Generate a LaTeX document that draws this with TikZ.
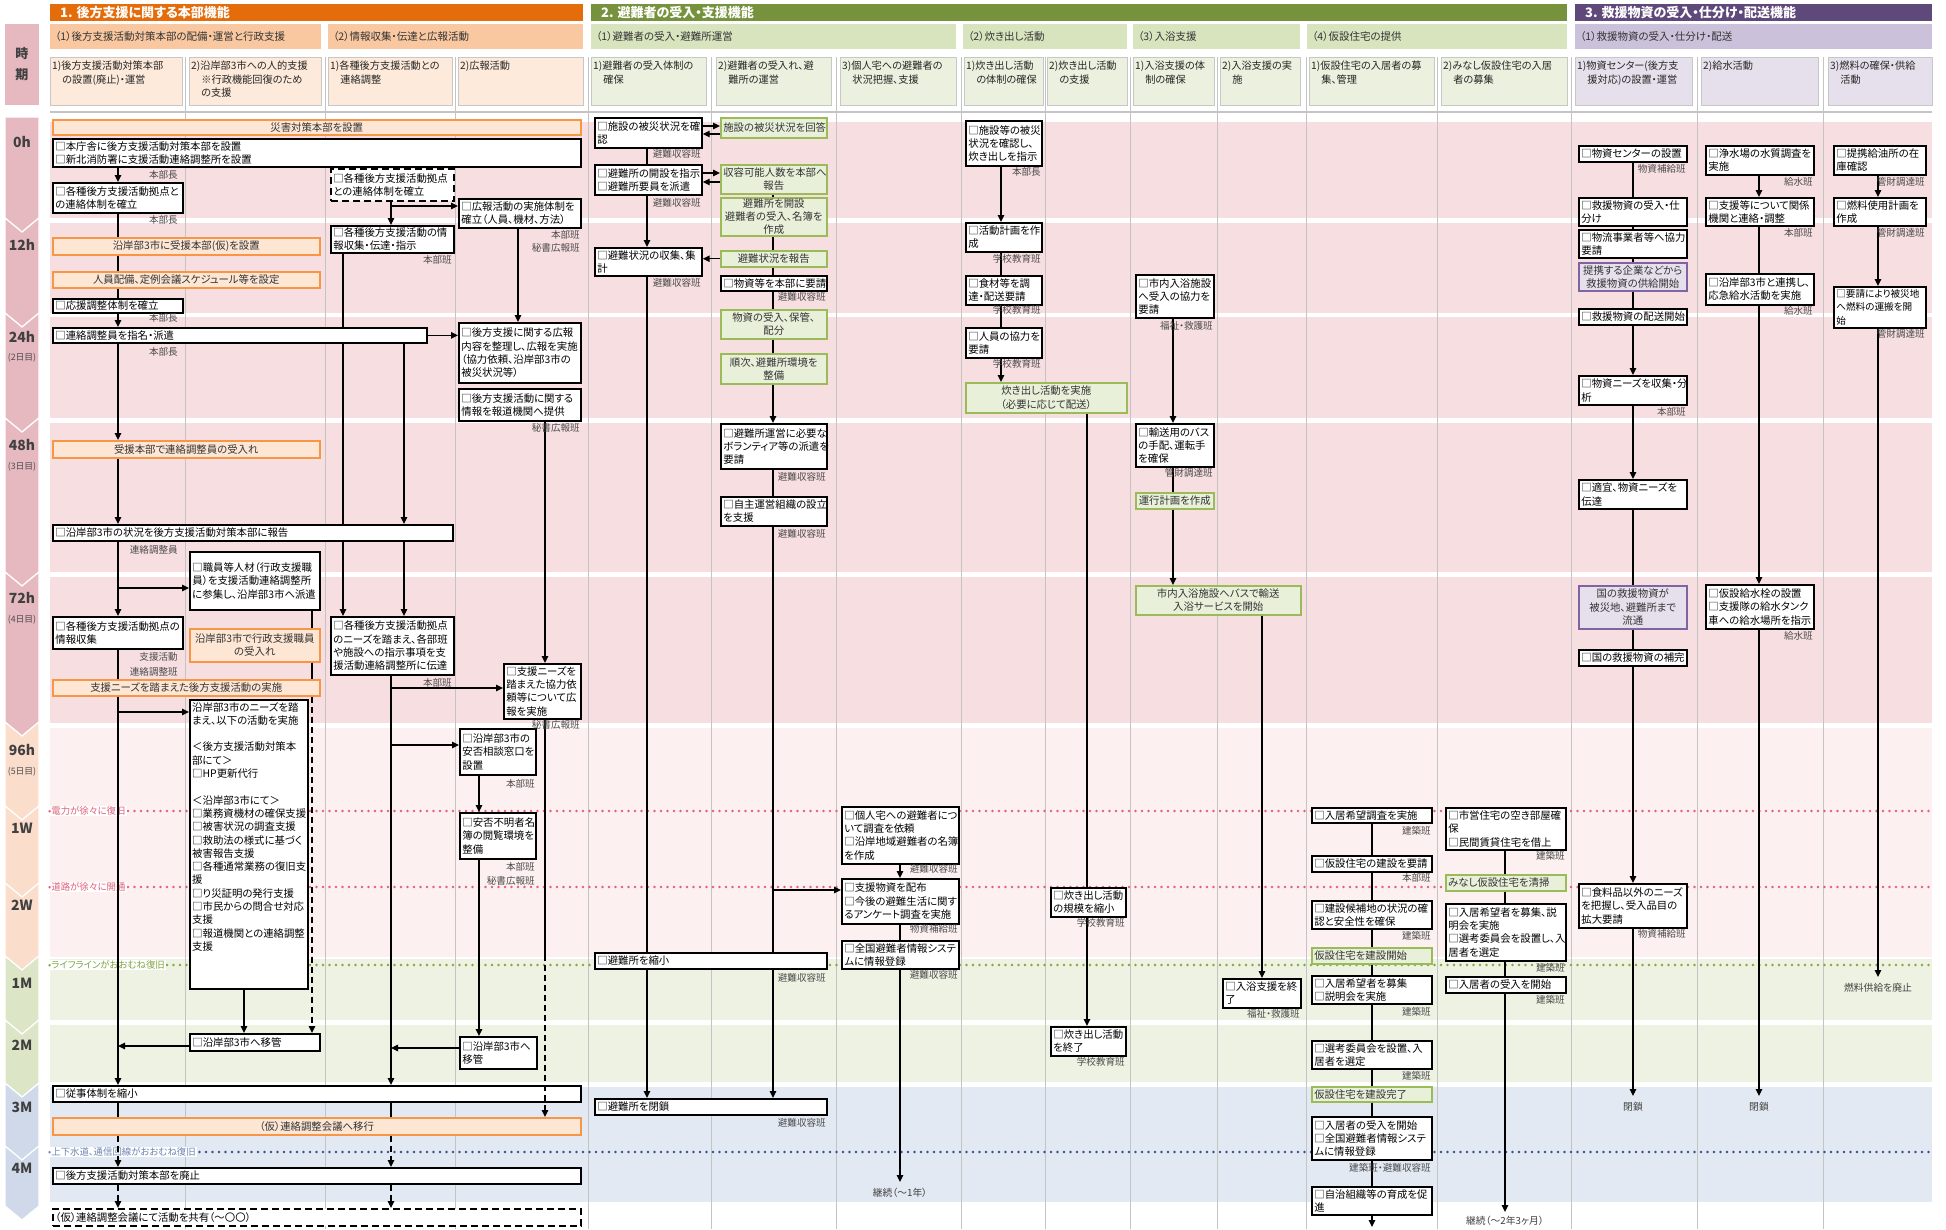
\documentclass[tikz,border=0pt]{standalone}
\usepackage{fontspec}
\setmainfont{Noto Sans CJK JP}[RawFeature=+palt]
\usetikzlibrary{arrows.meta}
\definecolor{orgH}{HTML}{E46C0A}
\definecolor{orgS}{HTML}{F9C8A0}
\definecolor{orgC}{HTML}{FDEADA}
\definecolor{orgB}{HTML}{F79646}
\definecolor{orgF}{HTML}{FDE6D4}
\definecolor{grnH}{HTML}{76923C}
\definecolor{grnS}{HTML}{D7E4BD}
\definecolor{grnC}{HTML}{EBF1DE}
\definecolor{grnB}{HTML}{9BBB59}
\definecolor{grnF}{HTML}{E8F0DA}
\definecolor{purH}{HTML}{5F497A}
\definecolor{purS}{HTML}{CCC1DA}
\definecolor{purC}{HTML}{E5E0EC}
\definecolor{purB}{HTML}{8064A2}
\definecolor{purF}{HTML}{E5E0EC}
\definecolor{bandP}{HTML}{F6DEE1}
\definecolor{bandL}{HTML}{FCF0F0}
\definecolor{bandG}{HTML}{EDF2E3}
\definecolor{bandB}{HTML}{E3E9F3}
\definecolor{chP}{HTML}{E6B9C1}
\definecolor{chO}{HTML}{FBDDCB}
\definecolor{chG}{HTML}{DCE6C6}
\definecolor{chB}{HTML}{CFD9EA}
\definecolor{redD}{HTML}{E0607A}
\definecolor{grnD}{HTML}{7FA642}
\definecolor{bluD}{HTML}{2F4F8F}
\definecolor{gridc}{HTML}{C4C4C4}
\newcommand{\mybox}[7]{%
 \pgfmathsetmacro{\myW}{#5-#3}%
 \pgfmathsetmacro{\myH}{#6-#4}%
 \pgfmathsetmacro{\myT}{#5-#3-5}%
 \node[#1, minimum width=\myW pt, minimum height=\myH pt, text width=\myT pt] (#2) at (#3,#4) {#7};}
\newcommand{\mylab}[4]{\node[lab] (#1) at (#2,#3) {#4};}
\newcommand{\mycol}[5]{%
 \filldraw[fill=#1, draw=black!22, line width=0.8pt] (#3,57) rectangle (#4,105);
 \node[chtxt] (#2) at ({#3+2},61) {#5};}
\newcommand{\mychev}[3]{\filldraw[fill=#3, draw=white, line width=1.2pt] (5,#1) -- (22,{#1+14}) -- (39,#1) -- (39,#2) -- (22,{#2+14}) -- (5,#2) -- cycle;}
\begin{document}
\begin{tikzpicture}[x=1pt,y=-1pt,
 base/.style={anchor=north west, inner xsep=2.5pt, inner ysep=0.5pt, font=\fontsize{10.4}{13.3}\selectfont},
 wbox/.style={base, draw=black, line width=1.7pt, fill=white, align=left},
 obox/.style={base, draw=orgB, line width=1.5pt, fill=orgF, align=center, text=black!80},
 gbox/.style={base, draw=grnB, line width=1.5pt, fill=grnF, align=center, text=black!80},
 glbox/.style={gbox, align=left},
 pbox/.style={base, draw=purB, line width=1.5pt, fill=purF, align=center, text=black!80},
 dbox/.style={base, draw=black, line width=1.6pt, dash pattern=on 7pt off 4pt, fill=white, align=left},
 lab/.style={anchor=east, inner sep=0pt, font=\fontsize{9.6}{10}\selectfont, text=black!70},
 endt/.style={inner sep=0pt, font=\fontsize{9.8}{10}\selectfont, text=black!75},
 arr/.style={draw=black, line width=1.3pt, -{Triangle[length=7pt,width=6.5pt]}},
 ln/.style={draw=black, line width=1.3pt},
 dsh/.style={dash pattern=on 6pt off 4pt},
 htxt/.style={anchor=west, inner sep=0pt, text=white, font=\fontsize{13}{13}\selectfont\bfseries},
 stxt/.style={anchor=west, inner sep=0pt, text=black!80, font=\fontsize{10.5}{11}\selectfont},
 chtxt/.style={anchor=north west, inner sep=0pt, align=left, text=black!85, font=\fontsize{10.2}{13.5}\selectfont},
 tl/.style={inner sep=0pt, text=black!75, font=\fontsize{14}{14}\selectfont\bfseries},
 td/.style={inner sep=0pt, text=black!70, font=\fontsize{8.8}{9}\selectfont},
 dlab/.style={anchor=west, inner sep=1pt, fill=white, font=\fontsize{9.4}{10}\selectfont},
 dotl/.style={line width=2.6pt, dash pattern=on 0pt off 6.5pt, line cap=round},
]
\useasboundingbox (0,0) rectangle (1946,1229);
\fill[white] (0,0) rectangle (1946,1229);

% ---------- bands ----------
\fill[bandP] (50,122) rectangle (1932,218);
\fill[bandP] (50,223) rectangle (1932,313);
\fill[bandP] (50,317) rectangle (1932,418);
\fill[bandP] (50,423) rectangle (1932,572);
\fill[bandP] (50,577) rectangle (1932,723);
\fill[bandL] (50,728) rectangle (1932,957);
\fill[bandG] (50,959) rectangle (1932,1020);
\fill[bandG] (50,1025) rectangle (1932,1082);
\fill[bandB] (50,1087) rectangle (1932,1202);

% ---------- time column ----------
\fill[chP] (5,24) rectangle (39,105);
\node[tl, align=center, font=\fontsize{13}{21}\selectfont\bfseries] (jiki) at (22,64) {時\\期};
\filldraw[fill=chP, draw=white, line width=1.2pt] (5,117) -- (39,117) -- (39,218) -- (22,232) -- (5,218) -- cycle;
\mychev{218}{313}{chP}
\mychev{313}{418}{chP}
\mychev{418}{572}{chP}
\mychev{572}{722}{chP}
\mychev{722}{806}{chO}
\mychev{806}{883}{chO}
\mychev{883}{956}{chO}
\mychev{956}{1020}{chG}
\mychev{1020}{1083}{chG}
\mychev{1083}{1146}{chB}
\mychev{1146}{1206}{chB}
\node[tl] (t0) at (22,142) {0h};
\node[tl] (t1) at (22,245) {12h};
\node[tl] (t2) at (22,337) {24h};
\node[td] (t2d) at (22,358) {(2日目)};
\node[tl] (t3) at (22,445) {48h};
\node[td] (t3d) at (22,467) {(3日目)};
\node[tl] (t4) at (22,598) {72h};
\node[td] (t4d) at (22,620) {(4日目)};
\node[tl] (t5) at (22,750) {96h};
\node[td] (t5d) at (22,772) {(5日目)};
\node[tl] (t6) at (22,828) {1W};
\node[tl] (t7) at (22,905) {2W};
\node[tl] (t8) at (22,983) {1M};
\node[tl] (t9) at (22,1045) {2M};
\node[tl] (t10) at (22,1107) {3M};
\node[tl] (t11) at (22,1168) {4M};

% ---------- headers ----------
\fill[orgH] (50,4) rectangle (583,21);
\node[htxt] (h1) at (60,12.5) {1. 後方支援に関する本部機能};
\fill[grnH] (591,4) rectangle (1567,21);
\node[htxt] (h2) at (601,12.5) {2. 避難者の受入・支援機能};
\fill[purH] (1575,4) rectangle (1932,21);
\node[htxt] (h3) at (1585,12.5) {3. 救援物資の受入・仕分け・配送機能};
\fill[orgS] (50,24) rectangle (321,49);
\node[stxt] (s1) at (55,36.5) {（1）後方支援活動対策本部の配備・運営と行政支援};
\fill[orgS] (328,24) rectangle (583,49);
\node[stxt] (s2) at (333,36.5) {（2）情報収集・伝達と広報活動};
\fill[grnS] (591,24) rectangle (956,49);
\node[stxt] (s3) at (596,36.5) {（1）避難者の受入・避難所運営};
\fill[grnS] (963,24) rectangle (1127,49);
\node[stxt] (s4) at (968,36.5) {（2）炊き出し活動};
\fill[grnS] (1133,24) rectangle (1300,49);
\node[stxt] (s5) at (1138,36.5) {（3）入浴支援};
\fill[grnS] (1307,24) rectangle (1567,49);
\node[stxt] (s6) at (1312,36.5) {（4）仮設住宅の提供};
\fill[purS] (1575,24) rectangle (1932,49);
\node[stxt] (s7) at (1580,36.5) {（1）救援物資の受入・仕分け・配送};

\mycol{orgC}{c1}{50}{182}{1)後方支援活動対策本部\\　の設置(廃止)・運営}
\mycol{orgC}{c2}{189}{321}{2)沿岸部3市への人的支援\\　※行政機能回復のため\\　の支援}
\mycol{orgC}{c3}{328}{452}{1)各種後方支援活動との\\　連絡調整}
\mycol{orgC}{c4}{458}{583}{2)広報活動}
\mycol{grnC}{c5}{591}{706}{1)避難者の受入体制の\\　確保}
\mycol{grnC}{c6}{716}{831}{2)避難者の受入れ、避\\　難所の運営}
\mycol{grnC}{c7}{840}{956}{3)個人宅への避難者の\\　状況把握、支援}
\mycol{grnC}{c8}{964}{1043}{1)炊き出し活動\\　の体制の確保}
\mycol{grnC}{c9}{1047}{1127}{2)炊き出し活動\\　の支援}
\mycol{grnC}{c10}{1133}{1214}{1)入浴支援の体\\　制の確保}
\mycol{grnC}{c11}{1220}{1300}{2)入浴支援の実\\　施}
\mycol{grnC}{c12}{1309}{1434}{1)仮設住宅の入居者の募\\　集、管理}
\mycol{grnC}{c13}{1441}{1567}{2)みなし仮設住宅の入居\\　者の募集}
\mycol{purC}{c14}{1575}{1692}{1)物資センター(後方支\\　援対応)の設置・運営}
\mycol{purC}{c15}{1701}{1818}{2)給水活動}
\mycol{purC}{c16}{1828}{1932}{3)燃料の確保・供給\\　活動}

% ---------- grid lines ----------
\foreach \gx in {185,325,455,588,711,836,961,1045,1130,1217,1306,1437,1571,1697,1823}
  \draw[gridc, line width=0.9pt] (\gx,57) -- (\gx,1229);
\draw[gridc, line width=1.6pt] (50,112) -- (1932,112);

% ---------- dotted milestone lines ----------
\draw[dotl, draw=redD] (50,811) -- (1935,811);
\draw[dotl, draw=redD] (50,887) -- (1935,887);
\draw[dotl, draw=grnD] (50,965) -- (1935,965);
\draw[dotl, draw=bluD] (50,1152) -- (1935,1152);
\node[dlab, text=redD] (m1) at (47,811) {•電力が徐々に復旧};
\node[dlab, text=redD] (m2) at (47,887) {•道路が徐々に開通};
\node[dlab, text=grnD] (m3) at (47,965) {•ライフラインがおおむね復旧};
\node[dlab, text=bluD!70] (m4) at (47,1152) {•上下水道、通信回線がおおむね復旧};

% ---------- line coordinates ----------
\coordinate (xA) at (118,0);
\coordinate (xB) at (343,0);
\coordinate (xC) at (391,0);
\coordinate (xD) at (404,0);
\coordinate (xE) at (518,0);
\coordinate (xF) at (545,0);
\coordinate (xG) at (312,0);
\coordinate (xH) at (244,0);
\coordinate (xI) at (479,0);
\coordinate (xJ) at (647,0);
\coordinate (xK) at (773,0);
\coordinate (xL) at (900,0);
\coordinate (xM) at (1001,0);
\coordinate (xN) at (1087,0);
\coordinate (xO) at (1173,0);
\coordinate (xP) at (1262,0);
\coordinate (xQ) at (1372,0);
\coordinate (xR) at (1505,0);
\coordinate (xS) at (1633,0);
\coordinate (xT) at (1759,0);
\coordinate (xU) at (1878,0);
\coordinate (br1) at (118,588);
\coordinate (br2) at (118,712);
\coordinate (br3) at (391,206);
\coordinate (br4) at (391,688);
\coordinate (br5) at (391,745);
\coordinate (br6) at (118,1046);
\coordinate (br7) at (391,1048);
\coordinate (br9) at (773,890);
\coordinate (sw1) at (545,955);
\coordinate (g1a) at (701,126);
\coordinate (g1b) at (720,134);
\coordinate (g2a) at (701,173);
\coordinate (g2b) at (720,182);
\coordinate (e1) at (900,1182);
\coordinate (e2) at (1505,1212);
\coordinate (e3) at (1633,1096);
\coordinate (e4) at (1759,1096);
\coordinate (e5) at (1878,977);
\coordinate (e6) at (1372,1227);

% ---------- boxes section 1 ----------
\mybox{obox}{S1}{52}{119}{580}{134}{災害対策本部を設置}
\mybox{wbox}{S2}{52}{138}{580}{166}{□本庁舎に後方支援活動対策本部を設置\\□新北消防署に支援活動連絡調整所を設置}
\mybox{wbox}{S3}{52}{182}{182}{212}{□各種後方支援活動拠点と\\の連絡体制を確立}
\mybox{dbox}{S4}{330}{168}{453}{200}{□各種後方支援活動拠点\\との連絡体制を確立}
\mybox{wbox}{S5}{458}{198}{580}{227}{□広報活動の実施体制を\\確立（人員、機材、方法）}
\mybox{wbox}{S6}{330}{225}{453}{252}{□各種後方支援活動の情\\報収集・伝達・指示}
\mybox{obox}{S7}{52}{237}{319}{254}{沿岸部3市に受援本部(仮)を設置}
\mybox{obox}{S8}{52}{271}{319}{287}{人員配備、定例会議スケジュール等を設定}
\mybox{wbox}{S9}{52}{298}{182}{312}{□応援調整体制を確立}
\mybox{wbox}{S10}{52}{327}{426}{342}{□連絡調整員を指名・派遣}
\mybox{wbox}{S11}{458}{322}{580}{382}{□後方支援に関する広報\\内容を整理し、広報を実施\\（協力依頼、沿岸部3市の\\被災状況等）}
\mybox{wbox}{S12}{458}{388}{580}{420}{□後方支援活動に関する\\情報を報道機関へ提供}
\mybox{obox}{S13}{52}{440}{319}{457}{受援本部で連絡調整員の受入れ}
\mybox{wbox}{S14}{52}{524}{452}{540}{□沿岸部3市の状況を後方支援活動対策本部に報告}
\mybox{wbox}{S15}{189}{551}{319}{609}{□職員等人材（行政支援職\\員）を支援活動連絡調整所\\に参集し、沿岸部3市へ派遣}
\mybox{wbox}{S16}{52}{616}{182}{648}{□各種後方支援活動拠点の\\情報収集}
\mybox{obox}{S17}{189}{628}{319}{661}{沿岸部3市で行政支援職員\\の受入れ}
\mybox{wbox}{S18}{330}{616}{453}{674}{□各種後方支援活動拠点\\のニーズを踏まえ、各部班\\や施設への指示事項を支\\援活動連絡調整所に伝達}
\mybox{obox}{S19}{52}{679}{319}{695}{支援ニーズを踏まえた後方支援活動の実施}
\mybox{wbox}{S20}{189}{699}{307}{988}{}
\node[base, inner sep=0pt, align=left, text width=114pt] (S20t) at (192,702) {沿岸部3市のニーズを踏\\まえ、以下の活動を実施\\[13.3pt]＜後方支援活動対策本\\部にて＞\\□HP更新代行\\[13.3pt]＜沿岸部3市にて＞\\□業務資機材の確保支援\\□被害状況の調査支援\\□救助法の様式に基づく\\被害報告支援\\□各種通常業務の復旧支\\援\\□り災証明の発行支援\\□市民からの問合せ対応\\支援\\□報道機関との連絡調整\\支援};
\mybox{wbox}{S21}{503}{663}{580}{718}{□支援ニーズを\\踏まえた協力依\\頼等について広\\報を実施}
\mybox{wbox}{S22}{459}{728}{535}{774}{□沿岸部3市の\\安否相談窓口を\\設置}
\mybox{wbox}{S23}{459}{812}{535}{858}{□安否不明者名\\簿の閲覧環境を\\整備}
\mybox{wbox}{S24}{189}{1033}{319}{1050}{□沿岸部3市へ移管}
\mybox{wbox}{S25}{459}{1036}{536}{1068}{□沿岸部3市へ\\移管}
\mybox{wbox}{S26}{52}{1085}{580}{1101}{□従事体制を縮小}
\mybox{obox}{S27}{52}{1117}{580}{1134}{（仮）連絡調整会議へ移行}
\mybox{wbox}{S28}{52}{1167}{580}{1183}{□後方支援活動対策本部を廃止}
\mybox{dbox}{S29}{52}{1208}{580}{1225}{（仮）連絡調整会議にて活動を共有（〜〇〇）}

% ---------- boxes section 2 ----------
\mybox{wbox}{G1}{594}{117}{701}{147}{□施設の被災状況を確\\認}
\mybox{gbox}{G2}{720}{117}{826}{137}{施設の被災状況を回答}
\mybox{wbox}{G3}{594}{164}{701}{194}{□避難所の開設を指示\\□避難所要員を派遣}
\mybox{gbox}{G4}{720}{164}{826}{193}{収容可能人数を本部へ\\報告}
\mybox{gbox}{G5}{720}{197}{826}{235}{避難所を開設\\避難者の受入、名簿を\\作成}
\mybox{wbox}{G6}{594}{247}{701}{275}{□避難状況の収集、集\\計}
\mybox{gbox}{G7}{720}{250}{826}{266}{避難状況を報告}
\mybox{wbox}{G8}{720}{275}{826}{290}{□物資等を本部に要請}
\mybox{gbox}{G9}{720}{309}{826}{338}{物資の受入、保管、\\配分}
\mybox{gbox}{G10}{720}{353}{826}{383}{順次、避難所環境を\\整備}
\mybox{wbox}{G11}{720}{423}{826}{468}{□避難所運営に必要な\\ボランティア等の派遣を\\要請}
\mybox{wbox}{G12}{720}{496}{826}{525}{□自主運営組織の設立\\を支援}
\mybox{wbox}{G13}{594}{952}{826}{968}{□避難所を縮小}
\mybox{wbox}{G14}{594}{1098}{826}{1114}{□避難所を閉鎖}
\mybox{wbox}{G15}{841}{806}{958}{863}{□個人宅への避難者につ\\いて調査を依頼\\□沿岸地域避難者の名簿\\を作成}
\mybox{wbox}{G16}{841}{878}{958}{923}{□支援物資を配布\\□今後の避難生活に関す\\るアンケート調査を実施}
\mybox{wbox}{G17}{841}{940}{958}{968}{□全国避難者情報システ\\ムに情報登録}
\mybox{wbox}{G18}{965}{120}{1041}{165}{□施設等の被災\\状況を確認し、\\炊き出しを指示}
\mybox{wbox}{G19}{965}{222}{1041}{251}{□活動計画を作\\成}
\mybox{wbox}{G20}{965}{275}{1041}{304}{□食材等を調\\達・配送要請}
\mybox{wbox}{G21}{965}{327}{1041}{357}{□人員の協力を\\要請}
\mybox{gbox}{G22}{965}{382}{1126}{412}{炊き出し活動を実施\\（必要に応じて配送）}
\mybox{wbox}{G23}{1050}{887}{1125}{916}{□炊き出し活動\\の規模を縮小}
\mybox{wbox}{G24}{1050}{1026}{1125}{1055}{□炊き出し活動\\を終了}
\mybox{wbox}{G25}{1135}{274}{1213}{317}{□市内入浴施設\\へ受入の協力を\\要請}
\mybox{wbox}{G26}{1135}{423}{1213}{466}{□輸送用のバス\\の手配、運転手\\を確保}
\mybox{gbox}{G27}{1135}{492}{1213}{508}{運行計画を作成}
\mybox{gbox}{G28}{1135}{585}{1300}{614}{市内入浴施設へバスで輸送\\入浴サービスを開始}
\mybox{wbox}{G29}{1222}{978}{1300}{1007}{□入浴支援を終\\了}
\mybox{wbox}{H1}{1311}{807}{1431}{822}{□入居希望調査を実施}
\mybox{wbox}{H2}{1311}{855}{1431}{871}{□仮設住宅の建設を要請}
\mybox{wbox}{H3}{1311}{900}{1431}{928}{□建設候補地の状況の確\\認と安全性を確保}
\mybox{glbox}{H4}{1311}{947}{1431}{963}{仮設住宅を建設開始}
\mybox{wbox}{H5}{1311}{975}{1431}{1003}{□入居希望者を募集\\□説明会を実施}
\mybox{wbox}{H6}{1311}{1040}{1431}{1068}{□選考委員会を設置、入\\居者を選定}
\mybox{glbox}{H7}{1311}{1086}{1431}{1101}{仮設住宅を建設完了}
\mybox{wbox}{H8}{1311}{1116}{1431}{1159}{□入居者の受入を開始\\□全国避難者情報システ\\ムに情報登録}
\mybox{wbox}{H9}{1311}{1186}{1431}{1214}{□自治組織等の育成を促\\進}
\mybox{wbox}{M1}{1445}{807}{1565}{849}{□市営住宅の空き部屋確\\保\\□民間賃貸住宅を借上}
\mybox{glbox}{M2}{1445}{874}{1565}{890}{みなし仮設住宅を清掃}
\mybox{wbox}{M3}{1445}{903}{1565}{960}{□入居希望者を募集、説\\明会を実施\\□選考委員会を設置し、入\\居者を選定}
\mybox{wbox}{M4}{1445}{976}{1565}{992}{□入居者の受入を開始}

% ---------- boxes section 3 ----------
\mybox{wbox}{P1}{1578}{145}{1686}{161}{□物資センターの設置}
\mybox{wbox}{P2}{1578}{197}{1686}{225}{□救援物資の受入・仕\\分け}
\mybox{wbox}{P3}{1578}{229}{1686}{257}{□物流事業者等へ協力\\要請}
\mybox{pbox}{P4}{1578}{262}{1686}{290}{提携する企業などから\\救援物資の供給開始}
\mybox{wbox}{P5}{1578}{308}{1686}{324}{□救援物資の配送開始}
\mybox{wbox}{P6}{1578}{375}{1686}{404}{□物資ニーズを収集・分\\析}
\mybox{wbox}{P7}{1578}{479}{1686}{508}{□適宜、物資ニーズを\\伝達}
\mybox{pbox}{P8}{1578}{585}{1686}{628}{国の救援物資が\\被災地、避難所まで\\流通}
\mybox{wbox}{P9}{1578}{649}{1686}{665}{□国の救援物資の補完}
\mybox{wbox}{P10}{1578}{883}{1686}{927}{□食料品以外のニーズ\\を把握し、受入品目の\\拡大要請}
\mybox{wbox}{W1}{1705}{145}{1813}{174}{□浄水場の水質調査を\\実施}
\mybox{wbox}{W2}{1705}{197}{1813}{225}{□支援等について関係\\機関と連絡・調整}
\mybox{wbox}{W3}{1705}{273}{1813}{304}{□沿岸部3市と連携し、\\応急給水活動を実施}
\mybox{wbox}{W4}{1705}{584}{1813}{628}{□仮設給水栓の設置\\□支援隊の給水タンク\\車への給水場所を指示}
\mybox{wbox}{F1}{1833}{145}{1925}{174}{□提携給油所の在\\庫確認}
\mybox{wbox}{F2}{1833}{197}{1925}{225}{□燃料使用計画を\\作成}
\mybox{wbox, font=\fontsize{9.6}{13.3}\selectfont}{F3}{1833}{286}{1925}{327}{□要請により被災地\\へ燃料の運搬を開\\始}

% ---------- connectors section 1 ----------
\draw[arr] (S2.south -| xA) -- (S3.north -| xA);
\draw[ln] (S3.south -| xA) -- (S7.north -| xA);
\draw[ln] (S7.south -| xA) -- (S8.north -| xA);
\draw[ln] (S8.south -| xA) -- (S9.north -| xA);
\draw[arr] (S9.south -| xA) -- (S10.north -| xA);
\draw[arr] (S10.south -| xA) -- (S13.north -| xA);
\draw[arr] (S13.south -| xA) -- (S14.north -| xA);
\draw[arr] (S14.south -| xA) -- (S16.north -| xA);
\draw[arr] (br1) -- (br1 -| S15.west);
\draw[ln] (S16.south -| xA) -- (S19.north -| xA);
\draw[arr] (S19.south -| xA) -- (S26.north -| xA);
\draw[arr] (br2) -- (br2 -| S20.west);
\draw[arr] (br6 -| S24.west) -- (br6);
\draw[ln] (S26.south -| xA) -- (S27.north -| xA);
\draw[arr,dsh] (S27.south -| xA) -- (S28.north -| xA);
\draw[arr,dsh] (S28.south -| xA) -- (S29.north -| xA);
\draw[arr] (S4.south -| xC) -- (S6.north -| xC);
\draw[arr] (br3) -- (br3 -| S5.west);
\draw[ln] (S6.south -| xB) -- (S10.north -| xB);
\draw[ln] (S10.south -| xB) -- (S14.north -| xB);
\draw[arr] (S14.south -| xB) -- (S18.north -| xB);
\draw[arr] (S10.south -| xD) -- (S14.north -| xD);
\draw[arr] (S14.south -| xD) -- (S18.north -| xD);
\draw[arr] (S18.south -| xC) -- (S26.north -| xC);
\draw[arr] (br4) -- (br4 -| S21.west);
\draw[arr] (br5) -- (br5 -| S22.west);
\draw[arr] (br7 -| S25.west) -- (br7);
\draw[ln] (S26.south -| xC) -- (S27.north -| xC);
\draw[arr,dsh] (S27.south -| xC) -- (S28.north -| xC);
\draw[arr,dsh] (S28.south -| xC) -- (S29.north -| xC);
\draw[arr] (S5.south -| xE) -- (S11.north -| xE);
\draw[arr] (S10.east) -- (S10.east -| S11.west);
\draw[arr] (S12.south -| xF) -- (S21.north -| xF);
\draw[ln] (S21.south -| xF) -- (sw1);
\draw[arr,dsh] (sw1) -- (S27.north -| xF);
\draw[arr] (S22.south -| xI) -- (S23.north -| xI);
\draw[arr] (S23.south -| xI) -- (S25.north -| xI);
\draw[ln] (S15.south -| xG) -- (S17.north -| xG);
\draw[ln] (S17.south -| xG) -- (S19.north -| xG);
\draw[arr,dsh] (S19.south -| xG) -- (S24.north -| xG);
\draw[arr] (S20.south -| xH) -- (S24.north -| xH);

% ---------- connectors section 2 ----------
\draw[arr] (g1a) -- (g1a -| G2.west);
\draw[arr] (g1b) -- (g1b -| G1.east);
\draw[arr] (g2a) -- (g2a -| G4.west);
\draw[arr] (g2b) -- (g2b -| G3.east);
\draw[ln] (G1.south -| xJ) -- (G3.north -| xJ);
\draw[arr] (G3.south -| xJ) -- (G6.north -| xJ);
\draw[ln] (G6.south -| xJ) -- (G13.north -| xJ);
\draw[arr] (G13.south -| xJ) -- (G14.north -| xJ);
\draw[arr] (G7.west) -- (G7.west -| G6.east);
\draw[ln] (G4.south -| xK) -- (G5.north -| xK);
\draw[ln] (G5.south -| xK) -- (G7.north -| xK);
\draw[ln] (G7.south -| xK) -- (G8.north -| xK);
\draw[ln] (G8.south -| xK) -- (G9.north -| xK);
\draw[ln] (G9.south -| xK) -- (G10.north -| xK);
\draw[arr] (G10.south -| xK) -- (G11.north -| xK);
\draw[ln] (G11.south -| xK) -- (G12.north -| xK);
\draw[ln] (G12.south -| xK) -- (G13.north -| xK);
\draw[arr] (G13.south -| xK) -- (G14.north -| xK);
\draw[arr] (br9) -- (br9 -| G16.west);
\draw[arr] (G15.south -| xL) -- (G16.north -| xL);
\draw[ln] (G16.south -| xL) -- (G17.north -| xL);
\draw[arr] (G17.south -| xL) -- (e1);
\draw[arr] (G18.south -| xM) -- (G19.north -| xM);
\draw[ln] (G19.south -| xM) -- (G20.north -| xM);
\draw[ln] (G20.south -| xM) -- (G21.north -| xM);
\draw[arr] (G21.south -| xM) -- (G22.north -| xM);
\draw[ln] (G22.south -| xN) -- (G23.north -| xN);
\draw[arr] (G23.south -| xN) -- (G24.north -| xN);
\draw[arr] (G25.south -| xO) -- (G26.north -| xO);
\draw[ln] (G26.south -| xO) -- (G27.north -| xO);
\draw[arr] (G27.south -| xO) -- (G28.north -| xO);
\draw[arr] (G28.south -| xP) -- (G29.north -| xP);
\draw[ln] (H1.south -| xQ) -- (H2.north -| xQ);
\draw[ln] (H2.south -| xQ) -- (H3.north -| xQ);
\draw[ln] (H3.south -| xQ) -- (H4.north -| xQ);
\draw[ln] (H4.south -| xQ) -- (H5.north -| xQ);
\draw[ln] (H5.south -| xQ) -- (H6.north -| xQ);
\draw[ln] (H6.south -| xQ) -- (H7.north -| xQ);
\draw[ln] (H7.south -| xQ) -- (H8.north -| xQ);
\draw[ln] (H8.south -| xQ) -- (H9.north -| xQ);
\draw[arr] (H9.south -| xQ) -- (e6);
\draw[ln] (M1.south -| xR) -- (M2.north -| xR);
\draw[ln] (M2.south -| xR) -- (M3.north -| xR);
\draw[ln] (M3.south -| xR) -- (M4.north -| xR);
\draw[arr] (M4.south -| xR) -- (e2);

% ---------- connectors section 3 ----------
\draw[ln] (P1.south -| xS) -- (P2.north -| xS);
\draw[ln] (P2.south -| xS) -- (P3.north -| xS);
\draw[ln] (P3.south -| xS) -- (P4.north -| xS);
\draw[ln] (P4.south -| xS) -- (P5.north -| xS);
\draw[arr] (P5.south -| xS) -- (P6.north -| xS);
\draw[arr] (P6.south -| xS) -- (P7.north -| xS);
\draw[ln] (P7.south -| xS) -- (P8.north -| xS);
\draw[ln] (P8.south -| xS) -- (P9.north -| xS);
\draw[arr] (P9.south -| xS) -- (P10.north -| xS);
\draw[arr] (P10.south -| xS) -- (e3);
\draw[arr] (W1.south -| xT) -- (W2.north -| xT);
\draw[ln] (W2.south -| xT) -- (W3.north -| xT);
\draw[arr] (W3.south -| xT) -- (W4.north -| xT);
\draw[arr] (W4.south -| xT) -- (e4);
\draw[arr] (F1.south -| xU) -- (F2.north -| xU);
\draw[arr] (F2.south -| xU) -- (F3.north -| xU);
\draw[arr] (F3.south -| xU) -- (e5);

% ---------- end texts ----------
\node[endt] (n1) at (900,1193) {継続（〜1年）};
\node[endt] (n2) at (1505,1221) {継続（〜2年3ヶ月）};
\node[endt] (n3) at (1633,1107) {閉鎖};
\node[endt] (n4) at (1759,1107) {閉鎖};
\node[endt] (n5) at (1878,988) {燃料供給を廃止};

% ---------- labels ----------
\mylab{L1}{178}{175}{本部長}
\mylab{L2}{178}{220}{本部長}
\mylab{L3}{580}{235}{本部班}
\mylab{L4}{580}{248}{秘書広報班}
\mylab{L5}{452}{260}{本部班}
\mylab{L6}{178}{318}{本部長}
\mylab{L7}{178}{352}{本部長}
\mylab{L8}{580}{428}{秘書広報班}
\mylab{L9}{178}{550}{連絡調整員}
\mylab{L10}{178}{657}{支援活動}
\mylab{L11}{178}{672}{連絡調整班}
\mylab{L12}{452}{683}{本部班}
\mylab{L13}{580}{725}{秘書広報班}
\mylab{L14}{535}{784}{本部班}
\mylab{L15}{535}{867}{本部班}
\mylab{L16}{535}{881}{秘書広報班}
\mylab{L17}{701}{154}{避難収容班}
\mylab{L18}{701}{203}{避難収容班}
\mylab{L19}{701}{283}{避難収容班}
\mylab{L20}{826}{297}{避難収容班}
\mylab{L21}{826}{477}{避難収容班}
\mylab{L22}{826}{534}{避難収容班}
\mylab{L23}{826}{978}{避難収容班}
\mylab{L24}{826}{1123}{避難収容班}
\mylab{L25}{958}{869}{避難収容班}
\mylab{L26}{958}{929}{物資補給班}
\mylab{L27}{958}{975}{避難収容班}
\mylab{L28}{1041}{172}{本部長}
\mylab{L29}{1041}{259}{学校教育班}
\mylab{L30}{1041}{310}{学校教育班}
\mylab{L31}{1041}{364}{学校教育班}
\mylab{L32}{1125}{923}{学校教育班}
\mylab{L33}{1125}{1062}{学校教育班}
\mylab{L34}{1213}{326}{福祉・救護班}
\mylab{L35}{1213}{473}{管財調達班}
\mylab{L36}{1300}{1014}{福祉・救護班}
\mylab{L37}{1431}{831}{建築班}
\mylab{L38}{1431}{878}{本部班}
\mylab{L39}{1431}{936}{建築班}
\mylab{L40}{1431}{1012}{建築班}
\mylab{L41}{1431}{1076}{建築班}
\mylab{L42}{1431}{1168}{建築班・避難収容班}
\mylab{L43}{1565}{856}{建築班}
\mylab{L44}{1565}{968}{建築班}
\mylab{L45}{1565}{1000}{建築班}
\mylab{L46}{1686}{169}{物資補給班}
\mylab{L47}{1686}{412}{本部班}
\mylab{L48}{1686}{934}{物資補給班}
\mylab{L49}{1813}{182}{給水班}
\mylab{L50}{1813}{233}{本部班}
\mylab{L51}{1813}{311}{給水班}
\mylab{L52}{1813}{636}{給水班}
\mylab{L53}{1925}{182}{管財調達班}
\mylab{L54}{1925}{233}{管財調達班}
\mylab{L55}{1925}{334}{管財調達班}
\end{tikzpicture}
\end{document}
